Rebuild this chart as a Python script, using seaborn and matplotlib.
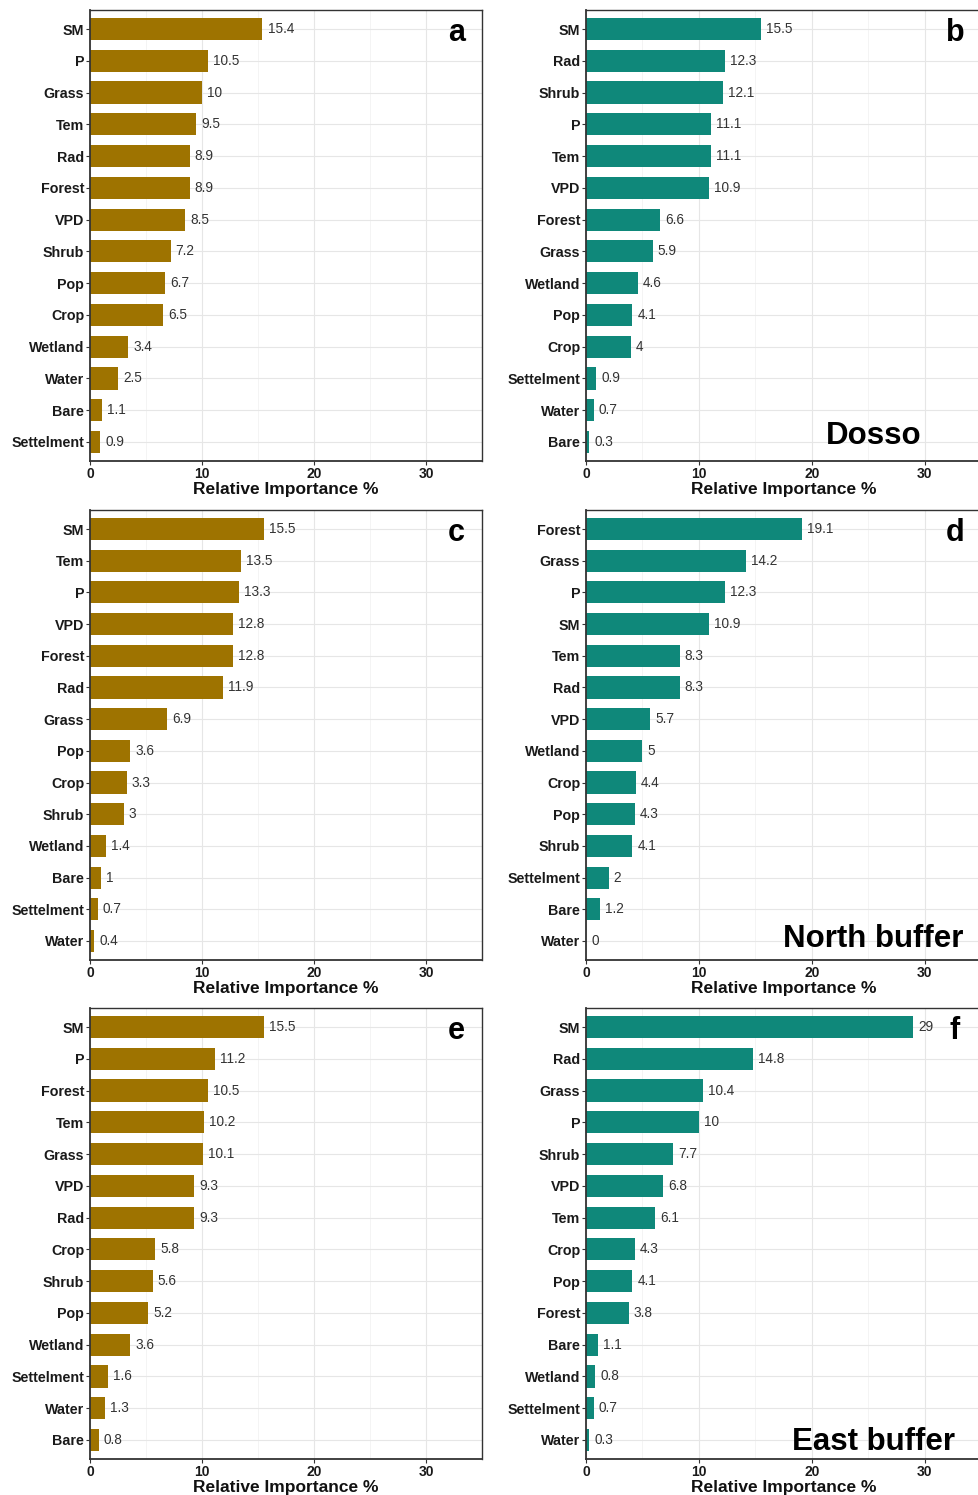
import matplotlib
matplotlib.use("Agg")
import matplotlib.pyplot as plt
import seaborn as sns
import pandas as pd
from matplotlib.ticker import MultipleLocator

sns.set_theme(style="white")
plt.rcParams['font.family'] = ['Liberation Sans', 'DejaVu Sans']

# ---- data ----
a_cat = ["SM", "P", "Grass", "Tem", "Rad", "Forest", "VPD", "Shrub", "Pop", "Crop", "Wetland", "Water", "Bare", "Settelment"]
a_val = [15.4, 10.5, 10, 9.5, 8.9, 8.9, 8.5, 7.2, 6.7, 6.5, 3.4, 2.5, 1.1, 0.9]

b_cat = ["SM", "Rad", "Shrub", "P", "Tem", "VPD", "Forest", "Grass", "Wetland", "Pop", "Crop", "Settelment", "Water", "Bare"]
b_val = [15.5, 12.3, 12.1, 11.1, 11.1, 10.9, 6.6, 5.9, 4.6, 4.1, 4, 0.9, 0.7, 0.3]

c_cat = ["SM", "Tem", "P", "VPD", "Forest", "Rad", "Grass", "Pop", "Crop", "Shrub", "Wetland", "Bare", "Settelment", "Water"]
c_val = [15.5, 13.5, 13.3, 12.8, 12.8, 11.9, 6.9, 3.6, 3.3, 3, 1.4, 1, 0.7, 0.4]

d_cat = ["Forest", "Grass", "P", "SM", "Tem", "Rad", "VPD", "Wetland", "Crop", "Pop", "Shrub", "Settelment", "Bare", "Water"]
d_val = [19.1, 14.2, 12.3, 10.9, 8.3, 8.3, 5.7, 5, 4.4, 4.3, 4.1, 2, 1.2, 0]

e_cat = ["SM", "P", "Forest", "Tem", "Grass", "VPD", "Rad", "Crop", "Shrub", "Pop", "Wetland", "Settelment", "Water", "Bare"]
e_val = [15.5, 11.2, 10.5, 10.2, 10.1, 9.3, 9.3, 5.8, 5.6, 5.2, 3.6, 1.6, 1.3, 0.8]

f_cat = ["SM", "Rad", "Grass", "P", "Shrub", "VPD", "Tem", "Crop", "Pop", "Forest", "Bare", "Wetland", "Settelment", "Water"]
f_val = [29, 14.8, 10.4, 10, 7.7, 6.8, 6.1, 4.3, 4.1, 3.8, 1.1, 0.8, 0.7, 0.3]

panel_letters = ["a", "b", "c", "d", "e", "f"]
region_names = ["Dosso", "North buffer", "East buffer"]
x_label = "Relative Importance %"

GOLD = "#9E7300"
TEAL = "#0F887A"

W, H = 979, 1495
fig = plt.figure(figsize=(W / 100, H / 100), dpi=100)

def ax_rect(left, right, top, bottom):
    return [left / W, 1 - bottom / H, (right - left) / W, (bottom - top) / H]

rows = [(10, 461), (510, 960), (1008, 1459)]
cols = [(90, 482), (586, 981)]
panels = [(a_cat, a_val), (b_cat, b_val), (c_cat, c_val), (d_cat, d_val), (e_cat, e_val), (f_cat, f_val)]
region_y = [0.055, 0.047, 0.038]

for i, (cats, vals) in enumerate(panels):
    r, c = divmod(i, 2)
    top, bottom = rows[r]
    left, right = cols[c]
    ax = fig.add_axes(ax_rect(left, right, top, bottom))
    df = pd.DataFrame({"var": cats, "val": vals})
    color = GOLD if c == 0 else TEAL
    sns.barplot(data=df, x="val", y="var", order=cats, orient="h", color=color,
                width=0.7, saturation=1, ax=ax, edgecolor="none")
    ax.set_xlim(0, 35)
    ax.set_ylim(len(cats) - 1 + 0.6, -0.6)
    ax.xaxis.set_major_locator(MultipleLocator(10))
    ax.xaxis.set_minor_locator(MultipleLocator(5))
    ax.grid(which="major", axis="both", color="#E6E6E6", linewidth=0.8)
    ax.grid(which="minor", axis="x", color="#F2F2F2", linewidth=0.6)
    ax.set_axisbelow(True)
    for k, v in enumerate(vals):
        ax.text(v + 0.45, k, f"{v:g}", va="center", ha="left", fontsize=9.8, color="#333333")
    for sp in ax.spines.values():
        sp.set_color("#333333")
        sp.set_linewidth(1.0)
    ax.spines["left"].set_linewidth(1.3)
    ax.spines["bottom"].set_linewidth(1.3)
    ax.tick_params(axis="both", which="major", length=3, width=0.8, color="#333333", pad=1.2,
                   left=True, bottom=True)
    ax.tick_params(axis="x", which="minor", length=0)
    for lab in ax.get_yticklabels():
        lab.set_fontweight("bold"); lab.set_fontsize(10.3); lab.set_color("#1a1a1a")
    for lab in ax.get_xticklabels():
        lab.set_fontweight("bold"); lab.set_fontsize(10); lab.set_color("#1a1a1a")
    ax.set_ylabel("")
    ax.set_xlabel(x_label, fontsize=12.5, fontweight="bold", color="#111111", labelpad=1)
    ax.text(0.934, 0.949, panel_letters[i], transform=ax.transAxes, fontsize=22,
            fontweight="bold", ha="center", va="center", color="black")
    if c == 1:
        ax.text(0.728, region_y[r], region_names[r], transform=ax.transAxes, fontsize=22.5,
                fontweight="bold", ha="center", va="center", color="black")

fig.savefig("out.png", dpi=100)
